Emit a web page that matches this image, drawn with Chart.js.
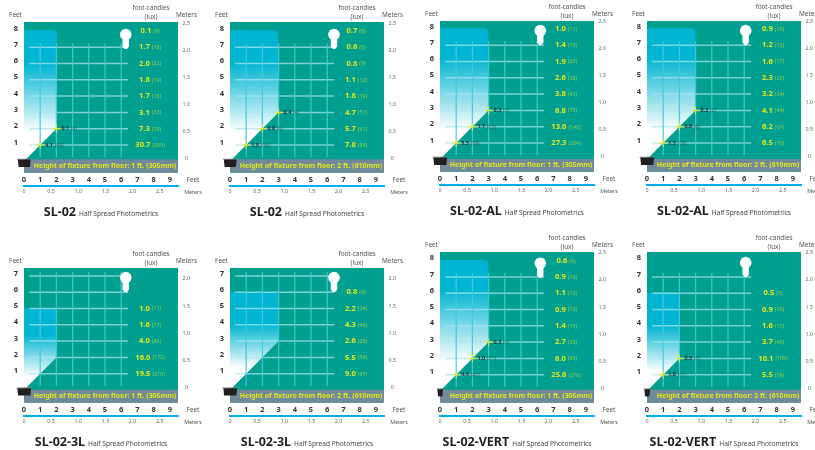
<!DOCTYPE html>
<html lang="en">
<head>
<meta charset="UTF-8">
<title>SL-02 Half Spread Photometrics</title>
<script src="https://cdn.jsdelivr.net/npm/chart.js"></script>
<style>
    html, body { margin: 0; padding: 0; background: #fff; width: 815px; height: 450px; overflow: hidden; }
    canvas { position: absolute; }
</style>
</head>
<body>
<script>
// data, one entry per panel
const models = ["SL-02", "SL-02", "SL-02-AL", "SL-02-AL", "SL-02-3L", "SL-02-3L", "SL-02-VERT", "SL-02-VERT"];
const heights = ["1 ft. (305mm)", "2 ft. (610mm)", "1 ft. (305mm)", "2 ft. (610mm)", "1 ft. (305mm)", "2 ft. (610mm)", "1 ft. (305mm)", "2 ft. (610mm)"];
const feetTicksY = [[1,2,3,4,5,6,7,8],[1,2,3,4,5,6,7,8],[1,2,3,4,5,6,7,8],[1,2,3,4,5,6,7,8],[1,2,3,4,5,6,7],[1,2,3,4,5,6,7],[1,2,3,4,5,6,7,8],[1,2,3,4,5,6,7,8]];
const meterTicksY = [[0,0.5,1,1.5,2,2.5],[0,0.5,1,1.5,2,2.5],[0,0.5,1,1.5,2,2.5],[0,0.5,1,1.5,2,2.5],[0,0.5,1,1.5,2],[0,0.5,1,1.5,2],[0,0.5,1,1.5,2,2.5],[0,0.5,1,1.5,2,2.5]];
const feetTicksX = [0,1,2,3,4,5,6,7,8,9];
const meterTicksX = [0,0.5,1,1.5,2,2.5];
const gridCols = [1,2,3,4,5,6];
const gridRows = [1,2,3,4,5,6,7];

// column of readings on the right, listed from the top row down
const rowStart = [8,8,8,8,5,6,8,6];
const fcValues = [
    ["0.1","1.7","2.0","1.8","1.7","3.1","7.3","30.7"],
    ["0.7","0.6","0.8","1.1","1.8","4.7","5.7","7.8"],
    ["1.0","1.4","1.9","2.6","3.8","6.8","13.0","27.3"],
    ["0.9","1.2","1.6","2.3","3.2","4.1","6.2","6.5"],
    ["1.0","1.6","4.0","16.0","19.5"],
    ["0.8","2.2","4.3","2.6","5.5","9.0"],
    ["0.6","0.9","1.1","0.9","1.4","2.7","6.0","25.6"],
    ["0.5","0.9","1.6","3.7","10.1","5.5"]
];
const luxValues = [
    [9,18,22,19,18,33,79,330],
    [8,6,9,12,19,51,61,84],
    [11,15,20,28,41,73,140,294],
    [10,13,17,25,34,44,67,70],
    [11,17,43,172,210],
    [9,24,46,28,59,97],
    [6,10,12,10,15,29,65,276],
    [5,10,17,40,109,59]
];

// readings at the yellow crosses, first one sits at 1 ft, next at 2 ft ...
const markFc = [["4.1","0.1"],["1.5","0.8","0.4"],["5.5","1.1","0.3"],["1.5","0.8","0.2"],[],[],["4.4","1.0","0.3"],["1.0","0.5"]];
const markLux = [[44,9],[16,9,4],[59,12,3],[16,9,2],[],[],[47,11,3],[11,5]];

// lit area, in feet
const coneRight = [2.05,3,3,3,2.05,3,3,2.05];
const coneTop = [8.04,8.04,8.04,8.04,5,6.02,8.04,6.02];
const fadeFrom = [6,6,6.2,6.2,3.4,4,6.2,4];
const fadeTo = [1.8,1.8,1.8,1.8,0.8,1.4,1.8,1.2];
const bulbX = [6.28,6.42,6.19,6.09,6.28,6.42,6.19,6.09];
const bulbY = [7.78,7.78,7.9,7.9,6.9,6.9,7.84,7.88];

// where each panel goes on the page (px)
const panelLeft = [24,230,440,647,24,230,440,647];
const panelTop = [22,22,21,21,268,268,252,252];
const panelBottom = [172.7,172.7,171.7,171.7,402.7,402.7,402.7,402.7];
const floorPx = [161.3,161.3,159.3,159.3,390,390,391,391];
const bandPx = [159.3,159.3,159,159,389.7,389.7,389.7,389.7];
const fixtureHalf = [7,7,7.5,7.5,7.5,7.5,3.5,3.5];

const PX_FT_X = 16.2, PX_FT_Y = 16.3, PX_M = 54.3, PANEL_W = 154;
const FONT = '"Noto Sans", sans-serif';
const TEAL = '#009f8f', BAND = '#6f8b9b', YELLOW = '#e4e61c', LUX = '#8fcf50', CYAN = '#00b5d1';

function pair(ctx, x, y, big, small, bigFont, smallFont, c1, c2, align) {
    ctx.textAlign = 'left';
    ctx.textBaseline = 'middle';
    ctx.font = bigFont;
    const w1 = ctx.measureText(big).width;
    ctx.font = smallFont;
    const w2 = ctx.measureText(small).width;
    const gap = 2;
    const x0 = align === 'center' ? x - (w1 + gap + w2) / 2 : x;
    ctx.font = bigFont;
    ctx.fillStyle = c1;
    ctx.fillText(big, x0, y);
    ctx.font = smallFont;
    ctx.fillStyle = c2;
    ctx.fillText(small, x0 + w1 + gap, y + 0.4);
}

function decorPlugin(i) {
    return {
        id: 'decor',
        beforeDatasetsDraw(chart) {
            const { ctx, chartArea: a } = chart;
            const offset = a.top - panelTop[i];
            ctx.save();
            ctx.fillStyle = TEAL;
            ctx.fillRect(a.left, a.top, a.right - a.left, a.bottom - a.top);
            ctx.fillStyle = BAND;
            ctx.fillRect(a.left, bandPx[i] + offset, a.right - a.left, a.bottom - bandPx[i] - offset);
            ctx.restore();
        },
        afterDatasetsDraw(chart) {
            const { ctx, chartArea: a, scales } = chart;
            const px = v => scales.x.getPixelForValue(v);
            const py = v => scales.y.getPixelForValue(v);
            const offset = a.top - panelTop[i];
            ctx.save();

            // bulb
            const bx = px(bulbX[i]), by = py(bulbY[i]);
            ctx.fillStyle = '#fff';
            ctx.beginPath();
            ctx.arc(bx, by, 5.8, 0, Math.PI * 2);
            ctx.fill();
            ctx.beginPath();
            ctx.moveTo(bx - 3.2, by + 3);
            ctx.lineTo(bx + 3.2, by + 3);
            ctx.lineTo(bx + 3.2, by + 12);
            ctx.lineTo(bx + 1.2, by + 14.5);
            ctx.lineTo(bx - 1.2, by + 14.5);
            ctx.lineTo(bx - 3.2, by + 12);
            ctx.closePath();
            ctx.fill();

            // fixture
            const fx = px(0), fy = py(0), h = fixtureHalf[i];
            ctx.fillStyle = '#8a8a8a';
            ctx.fillRect(fx - h, fy - 2.6, h * 2 + 0.5, 1);
            ctx.fillStyle = '#231f20';
            ctx.beginPath();
            ctx.moveTo(fx - h + 0.8, fy - 1.8);
            ctx.lineTo(fx + h - 0.3, fy - 1.8);
            ctx.lineTo(fx + h - 1.2, fy + 5.6);
            ctx.lineTo(fx - h + 1.6, fy + 5.6);
            ctx.closePath();
            ctx.fill();

            // right column of readings
            const labelX = a.left + 126;
            fcValues[i].forEach((fc, k) => {
                pair(ctx, labelX, py(rowStart[i] - k), fc, '(' + luxValues[i][k] + ')',
                    'bold 7.6px ' + FONT, '5.3px ' + FONT, YELLOW, LUX, 'center');
            });

            // readings by the crosses
            markFc[i].forEach((fc, k) => {
                pair(ctx, px(k + 1) + 5, py(k + 1), fc, '(' + markLux[i][k] + ')',
                    'bold 5.4px ' + FONT, '5px ' + FONT, '#1d2a2a', '#1f5f58', 'left');
            });

            // band text
            ctx.font = 'bold 6.9px ' + FONT;
            ctx.fillStyle = YELLOW;
            ctx.textAlign = 'center';
            ctx.textBaseline = 'middle';
            ctx.fillText('Height of fixture from floor: ' + heights[i], a.left + 81, (bandPx[i] + offset + a.bottom) / 2);

            // headings round the panel
            ctx.fillStyle = '#555';
            ctx.font = '6.4px ' + FONT;
            ctx.fillText('foot-candles', a.left + 127, a.top - 14);
            ctx.fillText('(lux)', a.left + 127, a.top - 5);
            ctx.fillText('Feet', a.left - 8.5, a.top - 6.7);
            ctx.fillText('Meters', a.left + 162.5, a.top - 6.7);
            ctx.fillText('Feet', a.left + 169, a.bottom + 7.5);
            ctx.font = '5.4px ' + FONT;
            ctx.fillText('Meters', a.left + 169, a.bottom + 19.5);

            // title under the panel
            const titleY = a.bottom + 40;
            ctx.font = 'bold 12.5px ' + FONT;
            const w1 = ctx.measureText(models[i]).width;
            ctx.font = '6.6px ' + FONT;
            const subtitle = 'Half Spread Photometrics';
            const w2 = ctx.measureText(subtitle).width;
            const tx = a.left + 77 - (w1 + 3 + w2) / 2;
            ctx.textAlign = 'left';
            ctx.fillStyle = '#231f20';
            ctx.font = 'bold 12.5px ' + FONT;
            ctx.fillText(models[i], tx, titleY);
            ctx.fillStyle = '#444';
            ctx.font = '6.6px ' + FONT;
            ctx.fillText(subtitle, tx + w1 + 3, titleY + 1);
            ctx.restore();
        }
    };
}

function makePanel(i) {
    const TOP_PAD = 22, LEFT_W = 24, RIGHT_W = 30, X1_H = 13.3, X2_H = 10, BOTTOM = 46;
    const panelH = panelBottom[i] - panelTop[i];
    const canvas = document.createElement('canvas');
    const W = LEFT_W + PANEL_W + RIGHT_W;
    const H = Math.round(TOP_PAD + panelH + X1_H + X2_H + BOTTOM);
    canvas.width = W;
    canvas.height = H;
    canvas.style.left = (panelLeft[i] - LEFT_W) + 'px';
    canvas.style.top = (panelTop[i] - TOP_PAD) + 'px';
    document.body.appendChild(canvas);

    const yMin = (floorPx[i] - panelBottom[i]) / PX_FT_Y;
    const yMax = (floorPx[i] - panelTop[i]) / PX_FT_Y;
    const m0 = floorPx[i] - 2.5; // meters ruler starts a little above the feet floor line
    const mMin = (m0 - panelBottom[i]) / PX_M;
    const mMax = (m0 - panelTop[i]) / PX_M;
    const xMax = PANEL_W / PX_FT_X;

    const right = coneRight[i], top = coneTop[i];
    const coneUpper = [
        { x: 0, y: top }, { x: right - 0.25, y: top }, { x: right - 0.07, y: top - 0.07 },
        { x: right, y: top - 0.25 }, { x: right, y: right + 0.15 }
    ];
    const coneLower = [{ x: 0, y: 0.12 }, { x: 0.12, y: 0.12 }, { x: right - 0.1, y: right - 0.1 }, { x: right, y: right + 0.15 }];

    const datasets = [];
    // dataset 0 is painted last
    datasets.push({
        label: 'crosses',
        data: markFc[i].map((v, k) => ({ x: k + 1, y: k + 1 })),
        pointStyle: 'cross', pointRadius: 4, pointBorderWidth: 1, pointBorderColor: '#e9ec1e', showLine: false
    });
    gridCols.forEach(c => datasets.push({
        data: [{ x: c, y: 0.25 }, { x: c, y: 7.25 }],
        showLine: true, borderColor: 'rgba(70,200,218,0.9)', borderWidth: 1.3, pointRadius: 0
    }));
    gridRows.forEach(r => datasets.push({
        data: [{ x: 0.32, y: r }, { x: 6.43, y: r }],
        showLine: true, borderColor: 'rgba(170,230,238,0.72)', borderWidth: 1.5, pointRadius: 0
    }));
    datasets.push({
        label: 'lit area',
        data: coneUpper, showLine: true, borderWidth: 0, pointRadius: 0, fill: '+1',
        backgroundColor: c => {
            const { ctx, scales, chartArea } = c.chart;
            if (!chartArea) return CYAN;
            const g = ctx.createLinearGradient(0, scales.y.getPixelForValue(fadeFrom[i]), 0, scales.y.getPixelForValue(fadeTo[i]));
            g.addColorStop(0, CYAN);
            g.addColorStop(1, '#ffffff');
            return g;
        }
    });
    datasets.push({ data: coneLower, showLine: true, borderWidth: 0, pointRadius: 0, fill: false });

    new Chart(canvas, {
        type: 'scatter',
        data: { datasets },
        plugins: [decorPlugin(i)],
        options: {
            responsive: false,
            animation: false,
            layout: { padding: { top: TOP_PAD, bottom: BOTTOM, left: 0, right: 0 } },
            plugins: { legend: { display: false }, tooltip: { enabled: false }, title: { display: false } },
            scales: {
                x: {
                    type: 'linear', position: 'bottom', min: 0, max: xMax,
                    afterBuildTicks: s => { s.ticks = feetTicksX.map(v => ({ value: v })); },
                    afterFit: s => { s.height = X1_H; },
                    grid: { display: false, tickLength: 0 }, border: { display: false },
                    ticks: { autoSkip: false, maxRotation: 0, padding: 2.5, color: '#333', font: { family: FONT, size: 7.5, weight: 'bold' } }
                },
                x2: {
                    type: 'linear', position: 'bottom', min: 0, max: PANEL_W / PX_M,
                    afterBuildTicks: s => { s.ticks = meterTicksX.map(v => ({ value: v })); },
                    afterFit: s => { s.height = X2_H; },
                    grid: { display: false, tickLength: 0 }, border: { display: true, color: '#00aeef', width: 2 },
                    ticks: {
                        autoSkip: false, maxRotation: 0, padding: 2.5, color: '#666', font: { family: FONT, size: 5.4 },
                        callback: v => (v === 0 ? '0' : v.toFixed(1))
                    }
                },
                y: {
                    type: 'linear', position: 'left', min: yMin, max: yMax,
                    afterBuildTicks: s => { s.ticks = feetTicksY[i].map(v => ({ value: v })); },
                    afterFit: s => { s.width = LEFT_W; },
                    grid: { display: false, tickLength: 0 }, border: { display: false },
                    ticks: { autoSkip: false, padding: 6, labelOffset: -2.5, crossAlign: 'near', color: '#333', font: { family: FONT, size: 7.5, weight: 'bold' } }
                },
                y2: {
                    type: 'linear', position: 'right', min: mMin, max: mMax,
                    afterBuildTicks: s => { s.ticks = meterTicksY[i].map(v => ({ value: v })); },
                    afterFit: s => { s.width = RIGHT_W; },
                    grid: { display: false, tickLength: 0 }, border: { display: false },
                    ticks: {
                        autoSkip: false, padding: 4.5, crossAlign: 'center', color: '#666', font: { family: FONT, size: 5.4 },
                        callback: v => (v === 0 ? '0' : v.toFixed(1))
                    }
                }
            }
        }
    });
}

models.forEach((m, i) => makePanel(i));
</script>
</body>
</html>
